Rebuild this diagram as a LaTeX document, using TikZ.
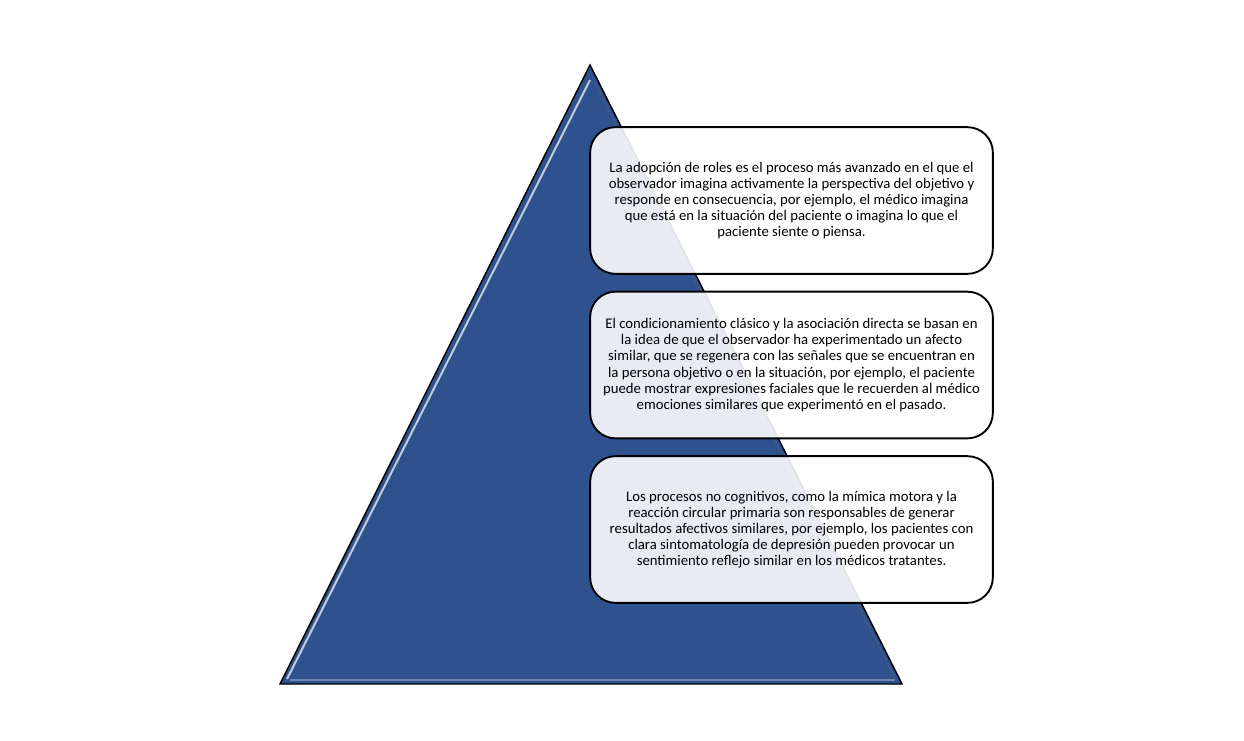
\documentclass[tikz,border=0pt]{standalone}
\usepackage{fontspec}
\setmainfont{Carlito}
\begin{document}
\begin{tikzpicture}[x=0.75pt,y=-0.75pt,
  textbox/.style={draw=black, line width=1.4pt, rounded corners=19pt,
    fill=white, fill opacity=0.89, text opacity=1,
    minimum width=302pt, minimum height=110pt, inner sep=0pt,
    align=center, font=\fontsize{11.05}{12.1}\selectfont},
  pyr/.style={draw=black, line width=1.1pt, fill={rgb,255:red,47;green,82;blue,143}, line join=miter}]
\useasboundingbox (0,0) rectangle (1244,740);
\fill[white] (0,0) rectangle (1244,740);
% pyramid
\coordinate (apex) at (590,65);
\coordinate (bl) at (280,684);
\coordinate (br) at (902,684);
\draw[pyr] (apex) -- (br) -- (bl) -- cycle;
% bevel highlights
\draw[white, opacity=0.7, line width=1.5pt] (590,80) -- (287,679);
\draw[white, opacity=0.3, line width=1.2pt] (290,680) -- (895,680);
\draw[black!60, opacity=0.3, line width=1pt] (592,77) -- (895,679);
% boxes
\node[textbox] (b1) at (791.5,200.5) {La adopción de roles es el proceso más avanzado en el que el\\ observador imagina activamente la perspectiva del objetivo y\\ responde en consecuencia, por ejemplo, el médico imagina\\ que está en la situación del paciente o imagina lo que el\\ paciente siente o piensa.};
\node[textbox] (b2) at (791.5,365) {El condicionamiento clásico y la asociación directa se basan en\\ la idea de que el observador ha experimentado un afecto\\ similar, que se regenera con las señales que se encuentran en\\ la persona objetivo o en la situación, por ejemplo, el paciente\\ puede mostrar expresiones faciales que le recuerden al médico\\ emociones similares que experimentó en el pasado.};
\node[textbox] (b3) at (791.5,529.5) {Los procesos no cognitivos, como la mímica motora y la\\ reacción circular primaria son responsables de generar\\ resultados afectivos similares, por ejemplo, los pacientes con\\ clara sintomatología de depresión pueden provocar un\\ sentimiento reflejo similar en los médicos tratantes.};
\end{tikzpicture}
\end{document}
